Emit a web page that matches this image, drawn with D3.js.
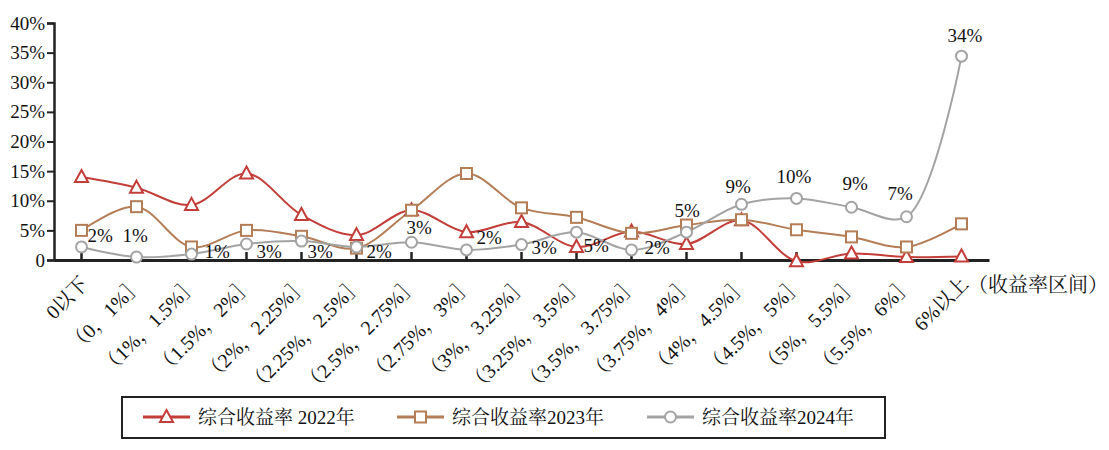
<!DOCTYPE html>
<html><head><meta charset="utf-8">
<script src="https://cdn.jsdelivr.net/npm/d3@7"></script>
</head>
<body style="margin:0;padding:0;background:#fff;"><svg id="chart" width="1109" height="450" style="display:block;"></svg>
<script>
const categories = ["0以下","（0，1%］","（1%，1.5%］","（1.5%，2%］","（2%，2.25%］","（2.25%，2.5%］","（2.5%，2.75%］","（2.75%，3%］","（3%，3.25%］","（3.25%，3.5%］","（3.5%，3.75%］","（3.75%，4%］","（4%，4.5%］","（4.5%，5%］","（5%，5.5%］","（5.5%，6%］","6%以上"];
const rate2022 = [14.0, 12.2, 9.3, 14.6, 7.6, 4.2, 8.4, 4.7, 6.4, 2.2, 4.8, 2.7, 6.7, -0.2, 1.1, 0.5, 0.6];
const rate2023 = [5.0, 9.0, 2.2, 5.0, 4.0, 2.0, 8.4, 14.6, 8.8, 7.2, 4.5, 5.9, 6.8, 5.1, 3.9, 2.2, 6.1];
const rate2024 = [2.2, 0.5, 1.0, 2.7, 3.2, 2.2, 3.0, 1.7, 2.6, 4.7, 1.7, 4.7, 9.4, 10.4, 8.9, 7.3, 34.4];
const yTicks = [0, 5, 10, 15, 20, 25, 30, 35, 40];
const seriesNames = ["综合收益率 2022年", "综合收益率2023年", "综合收益率2024年"];
const axisTitle = "（收益率区间）";

// label placement for 2024 data labels (layout only): [dx, dy] from point
const labelOffsets = [[6,-5],[-14,-15],[13,4],[10,14],[6,17],[10,11],[-5,-8],[10,-6],[10,9],[7,20],[13,4],[-12,-15],[-16,-11],[-20,-15],[-9,-17],[-19,-17],[-14,-14]];

const FONT = "'Liberation Serif', 'Noto Serif CJK SC'";
const svg = d3.select("#chart");
const x = d3.scaleBand().domain(categories).range([54, 989]).padding(0);
const y = d3.scaleLinear().domain([0, 40]).range([260, 23]);
const cx = c => x(c) + x.bandwidth() / 2;

const colors = ["#c33d39", "#b47d56", "#a3a3a3"];
const series = [rate2022, rate2023, rate2024];
const shapes = ["tri", "sq", "circ"];

// Y axis
const yAxis = d3.axisLeft(y).tickValues(yTicks).tickSize(7).tickPadding(2)
  .tickFormat(d => d === 0 ? "0" : d + "%");
const gy = svg.append("g").attr("transform", "translate(54,0)").call(yAxis);
gy.attr("font-family", FONT).attr("font-size", 19);
gy.select(".domain").attr("stroke", "#222").attr("stroke-width", 2.5);
gy.selectAll(".tick line").attr("stroke", "#222").attr("stroke-width", 2);
gy.selectAll(".tick text").style("font-family", FONT).style("font-size", "19px").attr("fill", "#111");

// X axis
const xAxis = d3.axisBottom(x).tickSize(-8).tickSizeOuter(0).tickFormat("");
const gx = svg.append("g").attr("transform", "translate(0,260)").call(xAxis);
gx.select(".domain").attr("stroke", "#222").attr("stroke-width", 3);
gx.selectAll(".tick line").attr("stroke", "#222").attr("stroke-width", 2.5);

// x labels rotated
svg.append("g").selectAll("text").data(categories).join("text")
  .attr("transform", d => `translate(${cx(d) + 8},285) rotate(-45)`)
  .attr("text-anchor", "end")
  .style("font-family", FONT).style("font-size", "20px").attr("fill", "#111")
  .text(d => d);

svg.append("text").attr("x", 968).attr("y", 292)
  .style("font-family", FONT).style("font-size", "20px").attr("fill", "#111").text(axisTitle);

// lines
const line = d3.line().x((d, i) => cx(categories[i])).y(d => y(d)).curve(d3.curveCatmullRom.alpha(0.5));
series.forEach((s, k) => {
  svg.append("path").datum(s).attr("d", line).attr("fill", "none")
    .attr("stroke", colors[k]).attr("stroke-width", 2);
});

function drawMarker(g, shape, color, px, py) {
  if (shape === "tri") {
    g.append("path").attr("d", `M${px},${py-7}L${px+6.5},${py+5}L${px-6.5},${py+5}Z`)
      .attr("fill", "#fff").attr("stroke", color).attr("stroke-width", 2);
  } else if (shape === "sq") {
    g.append("rect").attr("x", px-5.5).attr("y", py-5.5).attr("width", 11).attr("height", 11)
      .attr("fill", "#fff").attr("stroke", color).attr("stroke-width", 2);
  } else {
    g.append("circle").attr("cx", px).attr("cy", py).attr("r", 5.5)
      .attr("fill", "#fff").attr("stroke", color).attr("stroke-width", 2);
  }
}
series.forEach((s, k) => {
  const g = svg.append("g");
  s.forEach((v, i) => drawMarker(g, shapes[k], colors[k], cx(categories[i]), y(v)));
});

// data labels for 2024
svg.append("g").selectAll("text").data(rate2024).join("text")
  .attr("x", (d, i) => cx(categories[i]) + labelOffsets[i][0])
  .attr("y", (d, i) => y(d) + labelOffsets[i][1])
  .style("font-family", FONT).style("font-size", "19px").attr("fill", "#111")
  .text(d => Math.round(d) + "%");

// legend
const lg = svg.append("g");
lg.append("rect").attr("x", 122).attr("y", 397).attr("width", 763).attr("height", 41)
  .attr("fill", "#fff").attr("stroke", "#222").attr("stroke-width", 2);
const legendX = [143, 397, 647];
seriesNames.forEach((n, k) => {
  const lx = legendX[k];
  lg.append("line").attr("x1", lx).attr("x2", lx + 47).attr("y1", 417).attr("y2", 417)
    .attr("stroke", colors[k]).attr("stroke-width", 3);
  drawMarker(lg, shapes[k], colors[k], lx + 23.5, 417);
  lg.append("text").attr("x", lx + 55).attr("y", 424)
    .style("font-family", FONT).style("font-size", "19px").attr("fill", "#111").text(n);
});
</script></body></html>
